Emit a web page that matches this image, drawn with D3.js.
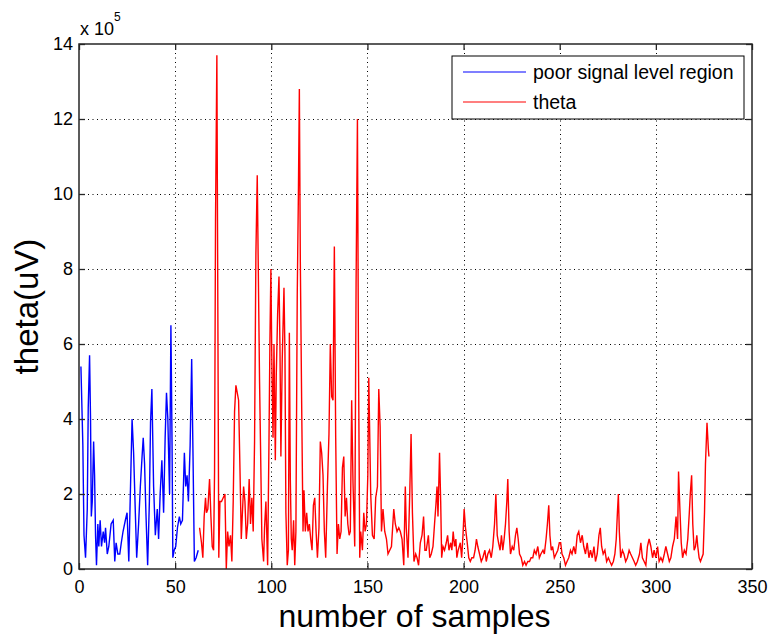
<!DOCTYPE html>
<html>
<head>
<meta charset="utf-8">
<script src="https://cdn.jsdelivr.net/npm/d3@7"></script>
<style>
  body { margin: 0; background: #fff; }
  svg { font-family: "Liberation Sans", Arial, sans-serif; }
</style>
</head>
<body>
<div id="chart"></div>
<script>
// tick values and labels
const xTicks = [0, 50, 100, 150, 200, 250, 300, 350];
const yTicks = [0, 2, 4, 6, 8, 10, 12, 14];
const legendLabels = ["poor signal level region", "theta"];
const seriesColors = ["#0000ff", "#ff0000"];

// [sample, theta in units of 10^5 uV]
const poorSignal = [
    [1, 5.4], [2, 3.3], [2.6, 0.9], [3.4, 0.3], [4.3, 1.6], [4.8, 4.3], [5.5, 5.7], [6, 4.0], [6.4, 1.4], [6.9, 1.8],
    [7.6, 3.4], [8.1, 2.5], [8.6, 0.9], [9.1, 0.1], [9.8, 1.2], [10.3, 0.6], [11, 1.3], [11.7, 0.6], [12.6, 1.0], [13.3, 0.7],
    [13.8, 1.1], [14.7, 0.4], [15.5, 0.6], [16.7, 1.2], [17.8, 1.3], [18.6, 0.2], [19.3, 0.7], [20.2, 0.4], [21.2, 0.4], [22, 0.7],
    [22.9, 1.0], [24.1, 1.3], [25, 1.5], [25.9, 0.2], [26.7, 2.0], [27.6, 4.0], [28.4, 3.1], [29.3, 1.5], [30, 0.3], [31, 1.2],
    [31.9, 2.2], [32.8, 3.0], [33.4, 3.5], [34.1, 2.8], [34.8, 1.5], [35.7, 0.1], [36.6, 1.8], [37.2, 3.9], [37.9, 4.8], [38.8, 2.2],
    [39.7, 0.9], [40.7, 1.6], [41.4, 0.8], [42.2, 2.0], [43.1, 2.9], [44, 1.5], [44.8, 3.5], [45.5, 4.7], [46.2, 4.0], [47.1, 2.0],
    [47.8, 6.5], [48.4, 3.3], [48.8, 0.3], [49.5, 0.5], [50.3, 0.6], [51.2, 1.1], [52.2, 1.4], [52.9, 1.2], [53.8, 1.3], [54.8, 3.1],
    [55.5, 2.2], [56.2, 2.5], [56.9, 1.8], [57.8, 3.3], [58.6, 5.6], [59.3, 3.0], [60, 0.2], [60.9, 0.3], [62, 0.5]
];

const theta = [
    [62.7, 1.1], [63.7, 0.7], [64.4, 0.3], [65.1, 1.4], [65.8, 1.9], [66.3, 1.5], [67, 1.6], [67.9, 2.4], [68.6, 1.4], [69.3, 0.6],
    [70, 0.5], [70.5, 2.6], [71, 9.3], [71.7, 13.7], [72.2, 7.0], [72.7, 0.3], [73.3, 1.8], [74.1, 1.8], [75, 1.9], [75.9, 2.0],
    [76.6, 0.0], [77.3, 1.0], [78, 0.6], [78.8, 0.9], [79.5, 0.2], [80.2, 1.8], [80.9, 4.2], [81.6, 4.9], [82.3, 4.7], [83, 4.5],
    [83.7, 2.7], [84.4, 0.8], [84.9, 1.4], [85.6, 2.2], [86.3, 1.8], [87, 0.8], [87.7, 1.2], [88.5, 2.4], [89.2, 1.2], [89.9, 1.9],
    [90.6, 1.0], [91.3, 3.4], [92, 8.4], [92.7, 10.5], [93.2, 8.2], [93.9, 5.0], [94.4, 3.3], [95.1, 0.8], [96, 0.2], [96.5, 1.1],
    [97.2, 1.8], [98.1, 0.1], [98.8, 3.4], [99.3, 6.1], [99.8, 8.0], [100.3, 5.5], [100.9, 3.5], [101.4, 6.0], [102.1, 2.9], [102.6, 5.2],
    [103.3, 6.8], [104, 7.8], [104.5, 6.0], [105, 3.0], [105.7, 5.6], [106.6, 7.5], [107.1, 5.8], [107.6, 1.5], [108.3, 0.1], [108.9, 0.5],
    [109.4, 6.3], [109.9, 2.4], [110.4, 0.8], [110.9, 0.5], [111.6, 1.3], [112.2, 0.1], [112.8, 1.0], [113.5, 7.3], [114.1, 10.0], [114.6, 12.8],
    [115.1, 8.2], [115.8, 4.4], [116.5, 1.0], [117, 2.1], [117.7, 1.0], [118.4, 1.5], [119.1, 1.0], [119.8, 1.2], [120.5, 0.8], [121.2, 0.5],
    [121.9, 1.7], [122.6, 1.9], [123.3, 1.0], [124, 0.3], [124.8, 1.1], [125.5, 3.4], [126.2, 3.1], [126.9, 2.5], [127.6, 1.0], [128.3, 0.3],
    [129.2, 2.2], [130, 3.6], [130.7, 6.0], [131.4, 4.6], [132.1, 4.5], [132.8, 8.6], [133.5, 3.5], [134.2, 0.4], [134.9, 1.2], [135.6, 0.8],
    [136.3, 1.0], [137, 2.7], [137.7, 3.0], [138.4, 1.4], [139.1, 1.9], [139.8, 1.2], [140.5, 0.9], [141.1, 1.0], [141.8, 4.5], [142.5, 2.3],
    [143.4, 0.6], [144.1, 7.6], [144.8, 12.0], [145.3, 6.1], [146, 0.3], [146.5, 1.0], [147.4, 0.5], [148.1, 1.5], [148.8, 1.0], [149.5, 1.2],
    [150.2, 2.5], [150.7, 5.1], [151.7, 2.0], [152.6, 0.9], [153.5, 0.8], [154.3, 1.9], [155.2, 2.2], [155.9, 4.8], [156.6, 3.8], [157.3, 1.0],
    [158.1, 1.6], [159, 1.0], [159.9, 0.8], [160.7, 0.4], [161.6, 0.5], [162.5, 0.6], [163.7, 1.6], [164.5, 1.2], [165.4, 1.0], [166.3, 1.1],
    [167.1, 1.0], [168, 0.8], [168.9, 0.1], [169.7, 2.2], [170.2, 1.1], [171.1, 0.3], [172, 2.0], [172.7, 3.6], [173.4, 1.5], [174.2, 0.2],
    [175.1, 0.4], [175.8, 0.3], [176.6, 0.1], [177.5, 0.7], [178.4, 0.9], [179.2, 1.4], [179.9, 0.5], [180.6, 0.5], [181.7, 0.9], [182.4, 0.3],
    [183.2, 0.4], [184.1, 0.6], [184.9, 1.2], [185.6, 1.7], [186.2, 2.2], [186.7, 1.4], [187.5, 3.1], [188.1, 1.8], [188.6, 0.3], [189.3, 0.6],
    [190.1, 0.5], [191, 0.7], [191.7, 0.9], [192.4, 0.5], [193.3, 0.7], [193.9, 0.5], [194.6, 1.0], [195.3, 0.6], [196, 0.8], [196.5, 0.3],
    [197.2, 0.5], [198.3, 0.7], [199, 0.3], [199.7, 0.9], [200.3, 1.6], [201, 1.1], [201.9, 0.7], [202.7, 0.3], [203.5, 0.2], [204.3, 0.3],
    [205.2, 0.3], [206, 0.5], [206.7, 0.8], [207.4, 0.6], [208.3, 0.4], [209.2, 0.2], [210, 0.3], [211.1, 0.5], [211.8, 0.2], [212.6, 0.4],
    [213.5, 0.5], [214.4, 0.3], [215.2, 0.6], [216.1, 1.2], [216.8, 2.0], [217.5, 0.9], [218.2, 0.7], [219, 0.5], [219.7, 0.9], [220.4, 0.5],
    [221.1, 0.8], [221.8, 1.2], [222.5, 1.8], [223, 2.4], [223.7, 1.0], [224.4, 0.4], [225.3, 0.6], [226.1, 0.5], [227, 0.9], [227.7, 1.1],
    [228.4, 0.8], [229.1, 0.4], [230, 0.3], [230.8, 0.1], [231.7, 0.2], [232.5, 0.1], [233.4, 0.2], [234.3, 0.2], [235.1, 0.3], [236, 0.3],
    [236.8, 0.5], [237.7, 0.4], [238.6, 0.6], [239.4, 0.3], [240.2, 0.4], [241.3, 0.5], [242, 0.4], [242.9, 0.8], [243.6, 1.2], [244.3, 1.7],
    [244.9, 0.9], [245.6, 0.5], [246.3, 0.6], [247.2, 0.3], [248.1, 0.4], [249, 0.5], [249.8, 0.7], [250.5, 0.7], [251.2, 0.4], [252.1, 0.3],
    [253, 0.1], [253.8, 0.2], [254.7, 0.3], [255.6, 0.5], [256.4, 0.4], [257.3, 0.6], [258.2, 0.4], [259.1, 0.9], [259.9, 1.0], [260.8, 0.7],
    [261.7, 0.9], [262.5, 0.6], [263.4, 0.4], [264.3, 0.7], [265.2, 0.3], [266, 0.5], [266.9, 0.3], [267.8, 0.6], [268.6, 0.2], [269.5, 0.4],
    [270.4, 0.9], [271.1, 1.1], [271.8, 0.6], [272.6, 0.4], [273.5, 0.5], [274.4, 0.2], [275.3, 0.3], [276.1, 0.2], [277, 0.1], [277.9, 0.2],
    [278.7, 0.4], [279.4, 0.8], [280, 1.5], [280.5, 2.0], [281, 1.0], [281.7, 0.3], [282.6, 0.5], [283.4, 0.4], [284.3, 0.2], [285.2, 0.3],
    [286.1, 0.5], [286.9, 0.4], [287.8, 0.3], [288.7, 0.2], [289.5, 0.1], [290.4, 0.2], [291.5, 0.4], [292.2, 0.7], [293, 0.3], [293.9, 0.2],
    [294.8, 0.1], [295.6, 0.6], [296.5, 0.8], [297.4, 0.6], [298.3, 0.3], [299.1, 0.5], [300, 0.3], [300.9, 0.6], [301.7, 0.2], [302.6, 0.3],
    [303.5, 0.2], [304.4, 0.4], [305.2, 0.6], [306.1, 0.4], [307, 0.2], [307.8, 0.3], [308.7, 0.6], [309.6, 0.8], [310.5, 1.4], [311.3, 0.8],
    [311.8, 2.6], [312.5, 1.6], [313.2, 0.7], [313.9, 0.3], [314.8, 0.5], [315.7, 0.4], [316.6, 0.8], [317.4, 1.5], [317.9, 2.0], [318.6, 2.5],
    [319.2, 1.2], [319.9, 0.5], [320.6, 0.6], [321.3, 0.9], [321.8, 0.6], [322.5, 0.3], [323.2, 0.2], [323.9, 0.3], [324.6, 0.4], [325.3, 1.5],
    [325.8, 2.8], [326.6, 3.9], [327.3, 3.2], [327.6, 3.0]
];

const width = 770, height = 636;
const plotLeft = 79, plotRight = 752, plotTop = 44, plotBottom = 569;
const axisColor = "#262626";

const svg = d3.select("#chart").append("svg")
    .attr("width", width)
    .attr("height", height);

svg.append("rect").attr("width", width).attr("height", height).attr("fill", "#fff");

const x = d3.scaleLinear().domain([0, 350]).range([plotLeft, plotRight]);
const y = d3.scaleLinear().domain([0, 14]).range([plotBottom, plotTop]);

// dotted grid
const grid = svg.append("g")
    .attr("stroke", "#000")
    .attr("stroke-width", 1)
    .attr("stroke-dasharray", "1,3.5");

grid.selectAll("line.vx")
    .data(xTicks.slice(1, -1))
    .join("line")
    .attr("class", "vx")
    .attr("x1", d => Math.round(x(d)) + 0.5).attr("x2", d => Math.round(x(d)) + 0.5)
    .attr("y1", plotTop).attr("y2", plotBottom);

grid.selectAll("line.hy")
    .data(yTicks.slice(1, -1))
    .join("line")
    .attr("class", "hy")
    .attr("y1", d => Math.round(y(d)) + 0.5).attr("y2", d => Math.round(y(d)) + 0.5)
    .attr("x1", plotLeft).attr("x2", plotRight);

// series
const line = d3.line()
    .x(d => x(d[0]))
    .y(d => y(d[1]));

[poorSignal, theta].forEach((series, i) => {
    svg.append("path")
        .datum(series)
        .attr("fill", "none")
        .attr("stroke", seriesColors[i])
        .attr("stroke-width", 1.4)
        .attr("d", line);
});

// axes, ticks pointing inward on all four sides
function styleAxis(g) {
    g.select(".domain").remove();
    g.selectAll(".tick line").attr("stroke", axisColor).attr("stroke-width", 1.3);
    g.selectAll(".tick text")
        .attr("fill", "#000")
        .style("font-size", "18px");
}

svg.append("g")
    .attr("transform", `translate(0,${plotBottom})`)
    .call(d3.axisBottom(x).tickValues(xTicks).tickFormat(d3.format("d")).tickSizeInner(-6).tickSizeOuter(0).tickPadding(11))
    .call(styleAxis);

svg.append("g")
    .attr("transform", `translate(0,${plotTop})`)
    .call(d3.axisTop(x).tickValues(xTicks).tickFormat("").tickSizeInner(-6).tickSizeOuter(0))
    .call(styleAxis);

svg.append("g")
    .attr("transform", `translate(${plotLeft},0)`)
    .call(d3.axisLeft(y).tickValues(yTicks).tickFormat(d3.format("d")).tickSizeInner(-6).tickSizeOuter(0).tickPadding(6))
    .call(styleAxis);

svg.append("g")
    .attr("transform", `translate(${plotRight},0)`)
    .call(d3.axisRight(y).tickValues(yTicks).tickFormat("").tickSizeInner(-6).tickSizeOuter(0))
    .call(styleAxis);

// axes box
svg.append("rect")
    .attr("x", plotLeft).attr("y", plotTop)
    .attr("width", plotRight - plotLeft).attr("height", plotBottom - plotTop)
    .attr("fill", "none")
    .attr("stroke", axisColor)
    .attr("stroke-width", 1.5);

// exponent label
const expo = svg.append("text")
    .attr("x", plotLeft + 1)
    .attr("y", 35)
    .attr("fill", "#000")
    .style("font-size", "18px");
expo.append("tspan").text("x 10");
expo.append("tspan").attr("dy", -14).style("font-size", "12px").text("5");

// axis titles
svg.append("text")
    .attr("x", (plotLeft + plotRight) / 2 - 1)
    .attr("y", 627)
    .attr("text-anchor", "middle")
    .attr("fill", "#000")
    .style("font-size", "32px")
    .text("number of samples");

svg.append("text")
    .attr("transform", `translate(38,${(plotTop + plotBottom) / 2}) rotate(-90)`)
    .attr("text-anchor", "middle")
    .attr("fill", "#000")
    .style("font-size", "33px")
    .text("theta(uV)");

// legend
const legend = svg.append("g");
legend.append("rect")
    .attr("x", 452).attr("y", 56)
    .attr("width", 292).attr("height", 63)
    .attr("fill", "#fff")
    .attr("stroke", "#000")
    .attr("stroke-width", 1);

legendLabels.forEach((label, i) => {
    const ly = 72 + i * 30;
    legend.append("line")
        .attr("x1", 463).attr("x2", 526)
        .attr("y1", ly).attr("y2", ly)
        .attr("stroke", seriesColors[i])
        .attr("stroke-width", 1.2);
    legend.append("text")
        .attr("x", 533).attr("y", ly)
        .attr("dy", "0.35em")
        .attr("fill", "#000")
        .style("font-size", "19.5px")
        .text(label);
});
</script>
</body>
</html>
